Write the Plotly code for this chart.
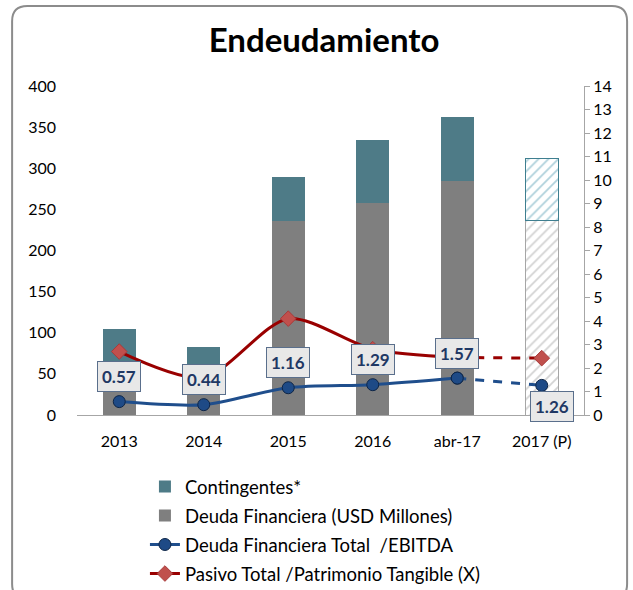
import plotly.graph_objects as go

# Data
categories = ["2013", "2014", "2015", "2016", "abr-17", "2017 (P)"]
deuda_financiera = [63, 50, 236, 258, 284, 237]
contingentes = [42, 33, 53, 76, 78, 75]
deuda_ebitda = [0.57, 0.44, 1.16, 1.29, 1.57, 1.26]
pasivo_patrimonio = [2.7, 1.6, 4.1, 2.8, 2.45, 2.42]

FONT = "Lato"
GRAY = "#7f7f7f"
TEAL = "#4e7b87"
BLUE = "#1f4e8c"
RED = "#990000"

fig = go.Figure()

# Historic stacked bars
fig.add_trace(go.Bar(
    x=categories[:-1], y=deuda_financiera[:-1], name="Deuda Financiera (USD Millones)",
    width=0.39, legendrank=2, legendgroup="g2", marker=dict(color=GRAY, line=dict(width=0)),
))
fig.add_trace(go.Bar(
    x=categories[:-1], y=contingentes[:-1], name="Contingentes*",
    width=0.39, legendrank=1, legendgroup="g1", marker=dict(color=TEAL, line=dict(width=0)),
))
# Projected bars, hatched
fig.add_trace(go.Bar(
    x=categories[-1:], y=deuda_financiera[-1:], showlegend=False, width=0.39,
    marker=dict(color="white", line=dict(color="#a6a6a6", width=1),
                pattern=dict(shape="/", fgcolor="#a6a6a6", bgcolor="white",
                             size=7, solidity=0.25)),
))
fig.add_trace(go.Bar(
    x=categories[-1:], y=contingentes[-1:], showlegend=False, width=0.39,
    marker=dict(color="white", line=dict(color="#3f7f90", width=1),
                pattern=dict(shape="/", fgcolor="#5fa3b8", bgcolor="white",
                             size=7, solidity=0.25)),
))

# Ratio lines on the right axis: solid history, dashed projection
blue_marker = dict(symbol="circle", size=12, color="#1e4a86", line=dict(color="#0d2547", width=1))
red_marker = dict(symbol="diamond", size=12, color="#c0504d", line=dict(color="#a83a3a", width=1))

fig.add_trace(go.Scatter(
    x=categories[:-1], y=deuda_ebitda[:-1], yaxis="y2", mode="lines+markers",
    name="Deuda Financiera Total  /EBITDA", legendrank=3, legendgroup="g3",
    line=dict(color=BLUE, width=3, shape="spline", smoothing=0.8), marker=blue_marker,
))
fig.add_trace(go.Scatter(
    x=categories[-2:], y=deuda_ebitda[-2:], yaxis="y2", mode="lines+markers",
    showlegend=False, line=dict(color=BLUE, width=3, dash="dash"), marker=blue_marker,
))
fig.add_trace(go.Scatter(
    x=categories[:-1], y=pasivo_patrimonio[:-1], yaxis="y2", mode="lines+markers",
    name="Pasivo Total /Patrimonio Tangible (X)", legendrank=4, legendgroup="g4",
    line=dict(color=RED, width=3, shape="spline", smoothing=0.8), marker=red_marker,
))
fig.add_trace(go.Scatter(
    x=categories[-2:], y=pasivo_patrimonio[-2:], yaxis="y2", mode="lines+markers",
    showlegend=False, line=dict(color=RED, width=3, dash="dash"), marker=red_marker,
))

# Value boxes for Deuda/EBITDA (x given as category index, since labels look numeric)
n = len(categories)
for i, val in enumerate(deuda_ebitda):
    last = i == n - 1
    fig.add_annotation(
        x=i, y=val, xref="x", yref="y2", text=f"<b>{val:.2f}</b>",
        showarrow=False, yshift=-21 if last else 25, xshift=10 if last else 0,
        font=dict(family=FONT, size=17, color="#1f3864"),
        bgcolor="#e8e8e8", bordercolor="#5a6f8c", borderwidth=1, borderpad=4,
    )

# Rounded outer border (bottom edge runs off the page, as in the original)
x0, x1, y0, y1 = -0.128, 1.085, -0.56, 1.243
rx, ry = 0.03, 0.046
path = (f"M {x0 + rx},{y1} L {x1 - rx},{y1} Q {x1},{y1} {x1},{y1 - ry} "
        f"L {x1},{y0 + ry} Q {x1},{y0} {x1 - rx},{y0} L {x0 + rx},{y0} "
        f"Q {x0},{y0} {x0},{y0 + ry} L {x0},{y1 - ry} Q {x0},{y1} {x0 + rx},{y1} Z")
fig.add_shape(type="path", path=path, xref="paper", yref="paper",
              line=dict(color="#8c8c8c", width=2), layer="below")

fig.update_layout(
    width=633, height=590,
    margin=dict(l=77, r=49, t=86, b=175),
    paper_bgcolor="white", plot_bgcolor="white",
    barmode="stack",
    font=dict(family=FONT, size=16, color="black"),
    title=dict(text="<b>Endeudamiento</b>", x=0.512, xanchor="center",
               y=0.932, yanchor="middle", font=dict(family=FONT, size=33, color="black")),
    xaxis=dict(type="category", categoryorder="array", categoryarray=categories,
               range=[-0.5, n - 0.5], showgrid=False, showline=True, linecolor="#a6a6a6",
               linewidth=1, ticks="", ticklabelstandoff=12, tickfont=dict(size=16)),
    yaxis=dict(range=[0, 400], dtick=50, showgrid=False, showline=False,
               ticks="", ticklabelstandoff=20, tickfont=dict(size=16)),
    yaxis2=dict(range=[0, 14], dtick=1, overlaying="y", side="right", showgrid=False,
                showline=True, linecolor="#a6a6a6", ticks="outside", ticklen=5,
                tickcolor="#a6a6a6", tickfont=dict(size=16)),
    legend=dict(x=0.134, y=0.207, xanchor="left", yanchor="top", yref="container",
                font=dict(family=FONT, size=18.5), traceorder="grouped",
                tracegroupgap=2),
    showlegend=True,
)

# the page body has a default 8px margin; drop it so the figure fills the window
fig.write_html("out.html", config={"displayModeBar": False},
               post_script="document.body.style.margin = '0px';")
